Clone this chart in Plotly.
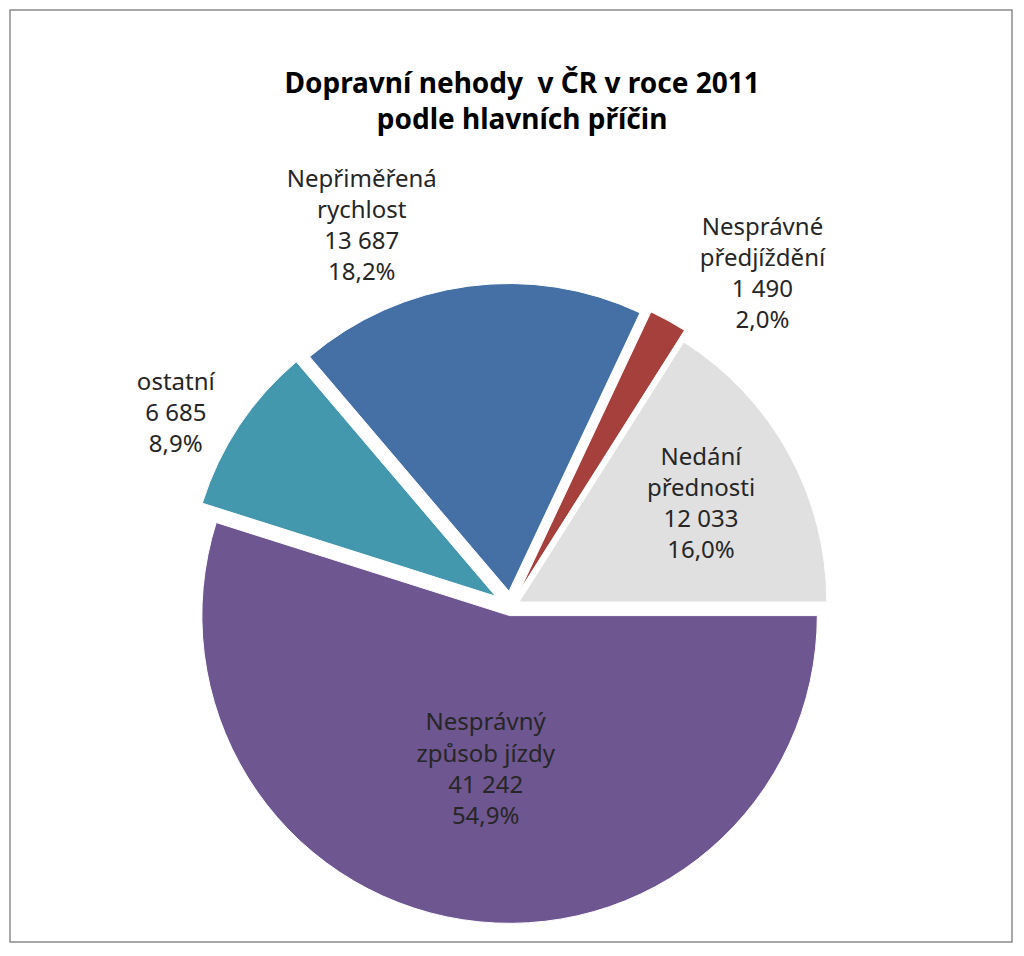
import plotly.graph_objects as go

# Data (Czech road accidents 2011 by main cause)
labels = ["Nesprávný způsob jízdy", "ostatní", "Nepřiměřená rychlost",
          "Nesprávné předjíždění", "Nedání přednosti"]
label_lines = ["Nesprávný<br>způsob jízdy", "ostatní", "Nepřiměřená<br>rychlost",
               "Nesprávné<br>předjíždění", "Nedání<br>přednosti"]
values = [41242, 6685, 13687, 1490, 12033]
colors = ["#6E5690", "#4398AE", "#4570A6", "#A6403D", "#E0E0E0"]
text_pos = ["inside", "outside", "outside", "outside", "inside"]

fig = go.Figure()

fig.add_trace(go.Pie(
    labels=labels,
    values=values,
    customdata=label_lines,
    sort=False,
    direction="clockwise",
    rotation=90,
    pull=[0.03, 0.06, 0.05, 0.06, 0.03],
    marker=dict(colors=colors, line=dict(color="white", width=1)),
    texttemplate="%{customdata}<br>%{value:,}<br>%{percent:.1%}",
    textposition=text_pos,
    insidetextorientation="horizontal",
    textfont=dict(size=24, color="#262626", family="Noto Sans"),
    insidetextfont=dict(size=24, color="#262626"),
    outsidetextfont=dict(size=24, color="#262626"),
    automargin=False,
    showlegend=False,
    hoverinfo="label+value+percent",
    domain=dict(x=[0.03, 0.97], y=[0.01, 0.71]),
))

# page body has an 8px margin, so the figure is a bit smaller than the window
fig.update_layout(
    width=1008,
    height=940,
    autosize=False,
    title=dict(
        text="<b>Dopravní nehody  v ČR v roce 2011<br>podle hlavních příčin</b>",
        x=0.51, xanchor="center", y=0.91, yanchor="middle",
        font=dict(size=28, color="black", family="Noto Sans"),
    ),
    separators=", ",
    paper_bgcolor="white",
    plot_bgcolor="white",
    margin=dict(l=2, r=4, t=2, b=6, autoexpand=False),
    shapes=[dict(type="rect", xref="paper", yref="paper", x0=0, y0=0, x1=1, y1=1,
                 line=dict(color="#8C8C8C", width=1.5))],
)

fig.write_html("out.html")
